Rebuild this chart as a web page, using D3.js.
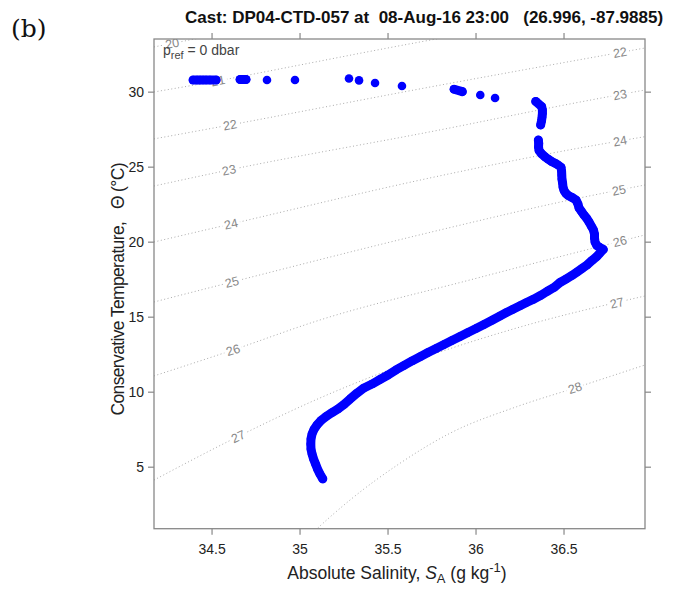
<!DOCTYPE html>
<html>
<head>
<meta charset="utf-8">
<script src="https://cdn.jsdelivr.net/npm/d3@7"></script>
<style>
  body { margin: 0; background: #fff; }
  svg { display: block; font-family: "Liberation Sans", Arial, sans-serif; }
</style>
</head>
<body>
<div id="chart"></div>
<script>
// axis ticks
const xTicks = [34.5, 35, 35.5, 36, 36.5];
const yTicks = [5, 10, 15, 20, 25, 30];

// cast profile, [SA, CT] : scattered bottles near the surface
const castSurface = [
  [34.395, 30.78], [34.418, 30.78], [34.435, 30.78], [34.452, 30.78], [34.469, 30.78],
  [34.491, 30.78], [34.526, 30.78], [34.662, 30.81], [34.696, 30.81], [34.815, 30.78],
  [34.974, 30.78], [35.281, 30.88], [35.338, 30.75], [35.429, 30.58], [35.582, 30.38],
  [35.878, 30.16], [35.925, 30.00], [36.027, 29.78], [36.111, 29.58], [36.342, 29.35]
];
// short run just under the surface
const castMixed = [
  [36.376, 29.00], [36.380, 28.78], [36.380, 28.55], [36.378, 28.31], [36.375, 28.05], [36.370, 27.78]
];
// continuous part of the cast
const castDeep = [
  [36.357, 26.78], [36.359, 26.56], [36.358, 26.31], [36.361, 26.08], [36.376, 25.85],
  [36.395, 25.65], [36.414, 25.49], [36.432, 25.35], [36.452, 25.23], [36.469, 25.11],
  [36.486, 24.96], [36.489, 24.71], [36.490, 24.45], [36.491, 24.18], [36.495, 23.89],
  [36.497, 23.65], [36.503, 23.41], [36.514, 23.21], [36.527, 23.08], [36.548, 22.95],
  [36.571, 22.78], [36.582, 22.51], [36.588, 22.25], [36.603, 22.00], [36.616, 21.78],
  [36.632, 21.55], [36.645, 21.31], [36.660, 21.00], [36.670, 20.78], [36.676, 20.51],
  [36.676, 20.25], [36.679, 19.98], [36.689, 19.75], [36.707, 19.61], [36.726, 19.48],
  [36.707, 19.25], [36.689, 19.01], [36.662, 18.75], [36.634, 18.45], [36.605, 18.21],
  [36.577, 17.98], [36.548, 17.75], [36.514, 17.51], [36.480, 17.28], [36.446, 16.95],
  [36.406, 16.68], [36.366, 16.39], [36.327, 16.15], [36.287, 15.93], [36.253, 15.73],
  [36.213, 15.49], [36.173, 15.26], [36.139, 15.05], [36.094, 14.76], [36.048, 14.48],
  [36.003, 14.21], [35.957, 13.95], [35.912, 13.68], [35.866, 13.41], [35.821, 13.15],
  [35.776, 12.88], [35.730, 12.61], [35.685, 12.33], [35.639, 12.05], [35.594, 11.75],
  [35.548, 11.45], [35.503, 11.11], [35.457, 10.81], [35.412, 10.51], [35.366, 10.25],
  [35.327, 9.91], [35.287, 9.51], [35.253, 9.15], [35.219, 8.85], [35.185, 8.61],
  [35.151, 8.35], [35.122, 8.08], [35.099, 7.78], [35.082, 7.48], [35.071, 7.18],
  [35.065, 6.85], [35.064, 6.51], [35.065, 6.18], [35.071, 5.85], [35.080, 5.51],
  [35.091, 5.18], [35.102, 4.85], [35.116, 4.51], [35.132, 4.19]
];

// potential density anomaly contours (sigma0), read as [SA, CT]
const sigmaLevels = [20, 21, 22, 23, 24, 25, 26, 27, 28];
const sigma20 = [[34.173, 32.98], [34.435, 33.58]];
const sigma21 = [[34.173, 29.98], [34.531, 30.71], [35.003, 31.78], [35.474, 32.85], [35.855, 33.68]];
const sigma22 = [[34.173, 26.85], [34.605, 27.78], [35.742, 30.31], [36.963, 32.91]];
const sigma23 = [[34.173, 23.71], [34.599, 24.78], [35.798, 27.45], [36.594, 29.31], [36.963, 30.11]];
const sigma24 = [[34.173, 19.98], [34.611, 21.18], [35.742, 24.25], [36.594, 26.25], [36.963, 27.00]];
const sigma25 = [[34.173, 15.98], [34.616, 17.31], [35.798, 20.78], [36.537, 22.78], [36.963, 23.78]];
const sigma26 = [[34.173, 11.05], [34.622, 12.78], [35.116, 14.78], [35.969, 17.45], [36.963, 20.45]];
const sigma27 = [[34.173, 4.11], [34.645, 6.98], [35.116, 9.58], [36.253, 14.31], [36.963, 16.38]];
const sigma28 = [[35.031, 0.11], [35.098, 0.85], [35.287, 2.78], [35.571, 5.23], [35.855, 7.23],
                 [36.234, 9.00], [36.565, 10.25], [36.963, 11.78]];
const sigmaLines = [sigma20, sigma21, sigma22, sigma23, sigma24, sigma25, sigma26, sigma27, sigma28];
// where the contour labels sit (level, SA)
const sigmaLabels = [
  [20, 34.276], [21, 34.537], [22, 34.605], [22, 36.821], [23, 34.599], [23, 36.821],
  [24, 34.611], [24, 36.821], [25, 34.616], [25, 36.815], [26, 34.622], [26, 36.821],
  [27, 34.651], [27, 36.804], [28, 36.565]
];

const titleText = "Cast: DP04-CTD-057 at  08-Aug-16 23:00   (26.996, -87.9885)";

// set the dimensions and margins of the graph
var margin = {top: 39, right: 37, bottom: 60, left: 154},
    width = 491,
    height = 489.7;

var x = d3.scaleLinear().domain([34.173, 36.963]).range([0, width]);
var y = d3.scaleLinear().domain([0.867, 33.51]).range([height, 0]);

var svg = d3.select("#chart").append("svg")
    .attr("width", 682)
    .attr("height", 589);

svg.append("text")
    .attr("x", 11).attr("y", 37)
    .style("font-family", "'DejaVu Serif', 'Liberation Serif', serif")
    .style("font-size", "25px")
    .attr("fill", "#111")
    .text("(b)");

svg.append("text")
    .attr("x", 185).attr("y", 23)
    .style("font-size", "17px")
    .style("font-weight", "bold")
    .style("white-space", "pre")
    .attr("fill", "#111")
    .text(titleText);

var g = svg.append("g")
    .attr("transform", "translate(" + margin.left + "," + margin.top + ")");

g.append("clipPath").attr("id", "plot-clip")
  .append("rect").attr("width", width).attr("height", height);

// density contours
var contourLine = d3.line()
    .x(function(d) { return x(d[0]); })
    .y(function(d) { return y(d[1]); })
    .curve(d3.curveMonotoneX);

var contours = g.append("g").attr("clip-path", "url(#plot-clip)");
contours.selectAll("path.sigma")
    .data(sigmaLines)
  .enter().append("path")
    .attr("class", "sigma")
    .attr("d", contourLine)
    .attr("fill", "none")
    .attr("stroke", "#aaa")
    .attr("stroke-width", 1)
    .attr("stroke-dasharray", "1,2.5");

// position of a label on its contour
function labelSpot(lab) {
  var pts = sigmaLines[sigmaLevels.indexOf(lab[0])];
  var i = 1;
  while (i < pts.length - 1 && pts[i][0] < lab[1]) i++;
  var a = pts[i - 1], b = pts[i];
  var t = (lab[1] - a[0]) / (b[0] - a[0]);
  var ct = a[1] + t * (b[1] - a[1]);
  var ang = Math.atan2(y(b[1]) - y(a[1]), x(b[0]) - x(a[0])) * 180 / Math.PI;
  return {px: x(lab[1]), py: y(ct), ang: ang};
}

var labs = contours.selectAll("g.slab")
    .data(sigmaLabels)
  .enter().append("g")
    .attr("class", "slab")
    .attr("transform", function(d) {
      var s = labelSpot(d);
      return "translate(" + s.px + "," + s.py + ") rotate(" + s.ang + ")";
    });
labs.append("rect")
    .attr("x", -9).attr("y", -6).attr("width", 18).attr("height", 12)
    .attr("fill", "#fff");
labs.append("text")
    .attr("text-anchor", "middle")
    .attr("dy", "0.35em")
    .style("font-size", "12.5px")
    .attr("fill", "#888")
    .text(function(d) { return d[0]; });

// p_ref note
var pref = g.append("text")
    .attr("x", 9).attr("y", 16)
    .style("font-size", "14px")
    .attr("fill", "#444");
pref.append("tspan").text("p");
pref.append("tspan").attr("dy", 4).style("font-size", "11px").text("ref");
pref.append("tspan").attr("dy", -4).text(" = 0 dbar");

// axes
function styleAxis(sel) {
  sel.select(".domain").remove();
  sel.selectAll(".tick line").attr("stroke", "#888").attr("stroke-width", 1.2);
  sel.selectAll(".tick text").attr("fill", "#222").style("font-size", "14px")
     .style("font-family", "'Liberation Sans', Arial, sans-serif");
}

g.append("g")
    .attr("transform", "translate(0," + height + ")")
    .call(d3.axisBottom(x).tickValues(xTicks).tickSize(6).tickPadding(9).tickFormat(d3.format("")))
    .call(styleAxis);
g.append("g")
    .call(d3.axisTop(x).tickValues(xTicks).tickSize(6).tickFormat(""))
    .call(styleAxis);
g.append("g")
    .call(d3.axisLeft(y).tickValues(yTicks).tickSize(6).tickPadding(4).tickFormat(d3.format("")))
    .call(styleAxis);
g.append("g")
    .attr("transform", "translate(" + width + ",0)")
    .call(d3.axisRight(y).tickValues(yTicks).tickSize(6).tickFormat(""))
    .call(styleAxis);

g.append("rect")
    .attr("width", width).attr("height", height)
    .attr("fill", "none")
    .attr("stroke", "#888")
    .attr("stroke-width", 1.3);

// cast: thick trace where samples touch, then the dots
var cast = castSurface.concat(castMixed, castDeep);
var segments = [[cast[0]]];
for (var i = 1; i < cast.length; i++) {
  var p = cast[i - 1], q = cast[i];
  var gap = Math.hypot(x(q[0]) - x(p[0]), y(q[1]) - y(p[1]));
  if (gap < 10) segments[segments.length - 1].push(q);
  else segments.push([q]);
}
var castLine = d3.line()
    .x(function(d) { return x(d[0]); })
    .y(function(d) { return y(d[1]); });

g.selectAll("path.cast")
    .data(segments.filter(function(s) { return s.length > 1; }))
  .enter().append("path")
    .attr("class", "cast")
    .attr("d", castLine)
    .attr("fill", "none")
    .attr("stroke", "#0000ff")
    .attr("stroke-width", 9)
    .attr("stroke-linecap", "round")
    .attr("stroke-linejoin", "round");

g.selectAll("circle.cast")
    .data(cast)
  .enter().append("circle")
    .attr("class", "cast")
    .attr("cx", function(d) { return x(d[0]); })
    .attr("cy", function(d) { return y(d[1]); })
    .attr("r", 4.3)
    .attr("fill", "#0000ff");

// axis titles
var xt = svg.append("text")
    .attr("x", 397).attr("y", 579)
    .attr("text-anchor", "middle")
    .style("font-size", "17.5px")
    .attr("fill", "#222");
xt.append("tspan").text("Absolute Salinity, ");
xt.append("tspan").style("font-style", "italic").text("S");
xt.append("tspan").attr("dy", 4).style("font-size", "13px").text("A");
xt.append("tspan").attr("dy", -4).text(" (g kg");
xt.append("tspan").attr("dy", -7).style("font-size", "13px").text("-1");
xt.append("tspan").attr("dy", 7).text(")");

svg.append("text")
    .attr("transform", "translate(124,289) rotate(-90)")
    .attr("text-anchor", "middle")
    .attr("textLength", 253)
    .attr("lengthAdjust", "spacing")
    .style("font-size", "17.5px")
    .style("white-space", "pre")
    .attr("fill", "#222")
    .text("Conservative Temperature,   \u0398 (\u00B0C)");
</script>
</body>
</html>
